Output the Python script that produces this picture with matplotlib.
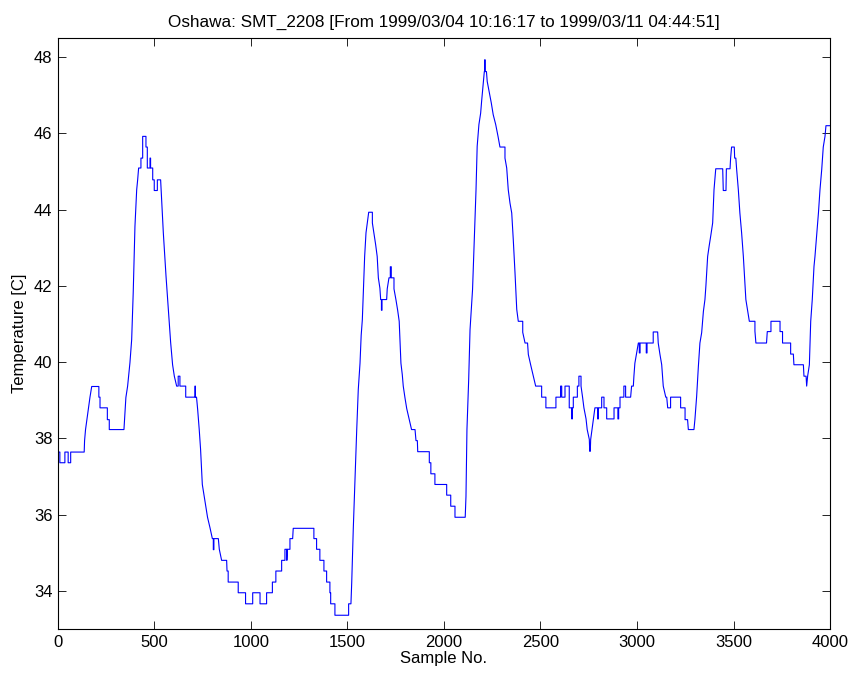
import matplotlib
matplotlib.use("Agg")
import matplotlib.pyplot as plt

# vertices of the temperature trace
sample_no = [
    0, 10, 10, 36, 36, 53, 53, 66, 66, 136,
    138, 143, 150, 158, 166, 175, 212, 212, 218, 218,
    256, 256, 266, 266, 342,
    352, 361, 373, 382, 390, 399, 408, 413, 418, 430,
    430, 439, 439, 456, 456, 463, 463, 477, 477, 480,
    480, 491, 491, 499, 499, 515, 515, 532, 546, 560,
    572, 584, 594, 603, 615, 623, 623, 632, 632, 662,
    662, 710, 710, 712, 712, 718,
    724, 732, 739, 748, 756, 765, 775, 788, 800, 805,
    805, 808, 808, 831, 836, 848, 874, 876, 882, 882,
    934, 934, 972, 972, 1009, 1009, 1047, 1047, 1081, 1081,
    1111, 1111, 1129, 1129, 1159, 1159, 1176, 1176, 1186, 1186,
    1188, 1202, 1202, 1216, 1219, 1326, 1326, 1340, 1340, 1357,
    1357, 1378, 1378, 1392, 1392, 1409, 1409, 1413, 1413, 1435,
    1435, 1506, 1506, 1518,
    1522, 1530, 1539, 1548, 1556, 1565, 1571, 1577, 1582, 1589,
    1596, 1603, 1610, 1629, 1629, 1637, 1646, 1654, 1660, 1668,
    1672, 1676, 1676, 1679, 1679, 1703, 1706, 1715, 1722, 1722,
    1727, 1727, 1741, 1741, 1751, 1760, 1768, 1772, 1777, 1784,
    1789, 1798, 1807, 1820, 1832, 1850, 1855, 1862, 1864, 1924,
    1924, 1932, 1932, 1953, 1953, 2014, 2014, 2035, 2035, 2057,
    2057, 2110,
    2114, 2119, 2128, 2135, 2148, 2157, 2166, 2172, 2181, 2190,
    2195, 2204, 2209, 2211, 2211, 2213, 2213, 2220, 2224, 2234,
    2245, 2255, 2268, 2280, 2290, 2316, 2316, 2325, 2333, 2342,
    2351, 2359, 2368, 2377, 2385, 2408, 2408, 2420, 2433, 2437,
    2449, 2463, 2475, 2506, 2506, 2528, 2528, 2580, 2580, 2604,
    2604, 2610, 2610, 2627, 2627, 2649, 2649, 2662, 2662, 2665,
    2665, 2670, 2670, 2691, 2691, 2699, 2699, 2710, 2710, 2718,
    2725, 2736, 2742, 2753, 2755, 2758, 2760, 2767, 2774, 2782,
    2796, 2796, 2800, 2800, 2817, 2817, 2829, 2829, 2843, 2843,
    2881, 2881, 2901, 2901, 2905, 2905, 2912, 2912, 2932, 2932,
    2941, 2941, 2967, 2972, 2981, 2984, 2989, 2998, 3007, 3012,
    3012, 3016, 3016, 3048, 3048, 3052, 3052, 3084, 3084, 3107,
    3110, 3119, 3128, 3136, 3149, 3154, 3159, 3174, 3174, 3226,
    3226, 3249, 3249, 3262, 3266, 3295, 3300, 3309, 3318, 3326,
    3335, 3344, 3352, 3357, 3366, 3374, 3383, 3392, 3399, 3408,
    3444, 3447, 3461, 3463, 3482, 3485, 3490, 3504, 3506, 3512,
    3516, 3525, 3533, 3542, 3551, 3559, 3564, 3573, 3582, 3611,
    3611, 3616, 3671, 3675, 3694, 3694, 3741, 3741, 3754, 3754,
    3796, 3796, 3810, 3813, 3862, 3865, 3876, 3879, 3884, 3893,
    3900, 3908, 3917, 3922, 3931, 3940, 3948, 3957, 3965, 3974,
    3979, 4000,
]

temperature = [
    37.64, 37.64, 37.36, 37.36, 37.64, 37.64, 37.36, 37.36, 37.64, 37.64,
    37.94, 38.23, 38.49, 38.80, 39.08, 39.36, 39.36, 39.08, 39.08, 38.80,
    38.80, 38.49, 38.49, 38.23, 38.23,
    39.07, 39.37, 39.98, 40.59, 41.82, 43.56, 44.52, 44.78, 45.09, 45.09,
    45.35, 45.35, 45.92, 45.92, 45.64, 45.64, 45.09, 45.09, 45.35, 45.35,
    45.09, 45.09, 44.78, 44.78, 44.50, 44.50, 44.78, 44.78, 43.39, 42.25,
    41.38, 40.51, 39.93, 39.63, 39.37, 39.37, 39.63, 39.63, 39.37, 39.37,
    39.08, 39.08, 39.37, 39.37, 39.08, 39.08,
    38.75, 38.23, 37.71, 36.79, 36.53, 36.22, 35.93, 35.65, 35.37, 35.37,
    35.08, 35.08, 35.37, 35.37, 35.09, 34.80, 34.80, 34.52, 34.52, 34.23,
    34.23, 33.95, 33.95, 33.66, 33.66, 33.95, 33.95, 33.66, 33.66, 33.95,
    33.95, 34.23, 34.23, 34.52, 34.52, 34.80, 34.80, 35.09, 35.09, 34.80,
    35.09, 35.09, 35.37, 35.37, 35.64, 35.64, 35.37, 35.37, 35.09, 35.09,
    34.80, 34.80, 34.52, 34.52, 34.23, 34.23, 33.95, 33.95, 33.66, 33.66,
    33.36, 33.36, 33.66, 33.66,
    34.21, 35.61, 36.92, 38.23, 39.28, 39.97, 40.70, 41.11, 41.81, 42.77,
    43.39, 43.65, 43.93, 43.93, 43.65, 43.39, 43.08, 42.77, 42.21, 41.94,
    41.64, 41.64, 41.36, 41.36, 41.64, 41.64, 41.92, 42.21, 42.21, 42.50,
    42.50, 42.21, 42.21, 41.92, 41.64, 41.36, 41.07, 40.59, 39.97, 39.67,
    39.37, 39.06, 38.78, 38.49, 38.23, 38.23, 37.94, 37.94, 37.65, 37.65,
    37.36, 37.36, 37.07, 37.07, 36.79, 36.79, 36.51, 36.51, 36.22, 36.22,
    35.93, 35.93,
    36.48, 38.23, 39.54, 40.85, 41.90, 43.21, 44.52, 45.66, 46.23, 46.53,
    46.84, 47.36, 47.62, 47.62, 47.93, 47.93, 47.62, 47.62, 47.36, 47.10,
    46.80, 46.49, 46.23, 45.92, 45.64, 45.64, 45.35, 45.09, 44.52, 44.17,
    43.91, 43.21, 42.34, 41.38, 41.07, 41.07, 40.78, 40.50, 40.50, 40.20,
    39.93, 39.63, 39.37, 39.37, 39.08, 39.08, 38.80, 38.80, 39.08, 39.08,
    39.37, 39.37, 39.08, 39.08, 39.37, 39.37, 38.80, 38.80, 38.51, 38.51,
    38.80, 38.80, 39.08, 39.08, 39.37, 39.37, 39.63, 39.63, 39.37, 39.08,
    38.80, 38.51, 38.23, 37.97, 37.66, 37.66, 37.97, 38.23, 38.51, 38.80,
    38.80, 38.51, 38.51, 38.80, 38.80, 39.08, 39.08, 38.80, 38.80, 38.51,
    38.51, 38.80, 38.80, 38.51, 38.51, 38.80, 38.80, 39.08, 39.08, 39.37,
    39.37, 39.08, 39.08, 39.37, 39.37, 39.63, 39.97, 40.24, 40.50, 40.50,
    40.24, 40.24, 40.50, 40.50, 40.24, 40.24, 40.50, 40.50, 40.79, 40.79,
    40.50, 40.20, 39.93, 39.37, 39.08, 39.08, 38.80, 38.80, 39.08, 39.08,
    38.80, 38.80, 38.49, 38.49, 38.23, 38.23, 38.49, 39.10, 39.89, 40.50,
    40.77, 41.33, 41.64, 42.00, 42.77, 43.05, 43.34, 43.65, 44.52, 45.07,
    45.07, 44.50, 44.50, 45.07, 45.07, 45.35, 45.64, 45.64, 45.35, 45.35,
    45.07, 44.52, 43.91, 43.39, 42.77, 42.10, 41.64, 41.35, 41.07, 41.07,
    40.81, 40.50, 40.50, 40.80, 40.80, 41.07, 41.07, 40.80, 40.80, 40.50,
    40.50, 40.21, 40.21, 39.93, 39.93, 39.63, 39.63, 39.37, 39.63, 39.93,
    41.07, 41.64, 42.51, 42.77, 43.34, 43.91, 44.52, 45.05, 45.64, 45.92,
    46.20, 46.20,
]

x_ticks = [0, 500, 1000, 1500, 2000, 2500, 3000, 3500, 4000]
y_ticks = [34, 36, 38, 40, 42, 44, 46, 48]

title = "Oshawa: SMT_2208 [From 1999/03/04 10:16:17 to 1999/03/11 04:44:51]"

plt.rcParams["font.family"] = ["Liberation Sans", "DejaVu Sans"]
plt.rcParams["font.size"] = 12

fig = plt.figure(figsize=(8.52, 6.96), dpi=100)
ax = fig.add_axes([0.068, 0.0963, 0.9062, 0.8491])

ax.plot(sample_no, temperature, color="#0000ff", linewidth=0.8)

ax.set_xlim(0, 4000)
ax.set_ylim(33, 48.5)
ax.set_xticks(x_ticks)
ax.set_yticks(y_ticks)
ax.tick_params(direction="in", top=True, right=True, length=6, width=0.6,
               labelsize=12, pad=4)
for spine in ax.spines.values():
    spine.set_linewidth(0.8)

ax.set_xlabel("Sample No.", fontsize=12, labelpad=1)
ax.set_ylabel("Temperature [C]", fontsize=12, labelpad=5)
ax.set_title(title, fontsize=12.3, pad=8)

fig.savefig("out.png", dpi=100)
